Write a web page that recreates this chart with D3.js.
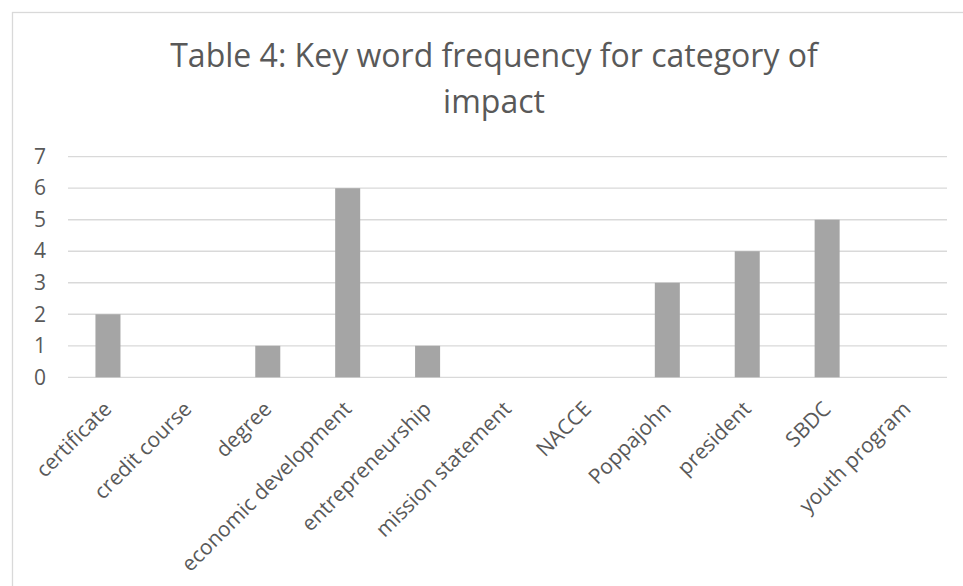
<!DOCTYPE html>
<html>
<head>
<meta charset="utf-8">
<script src="https://cdn.jsdelivr.net/npm/d3@7"></script>
<style>
  html, body { margin: 0; padding: 0; background: #fff; }
  svg { display: block; }
  text { font-family: "Open Sans", sans-serif; }
</style>
</head>
<body>
<svg id="chart" width="963" height="586"></svg>
<script>
const titleLines = ["Table 4: Key word frequency for category of", "impact"];
const categories = ["certificate", "credit course", "degree", "economic development", "entrepreneurship",
  "mission statement", "NACCE", "Poppajohn", "president", "SBDC", "youth program"];
const values = [2, 0, 1, 6, 1, 0, 0, 3, 4, 5, 0];
const yTicks = [0, 1, 2, 3, 4, 5, 6, 7];

const svg = d3.select("#chart");
const W = 963, H = 586;
const plot = { left: 68, right: 947, top: 156.7, bottom: 377.3 };

svg.append("rect").attr("x", 0).attr("y", 0).attr("width", W).attr("height", H).attr("fill", "#fff");
svg.append("rect")
  .attr("x", 12.5).attr("y", 12.5).attr("width", 1100).attr("height", 700)
  .attr("fill", "none").attr("stroke", "#d9d9d9").attr("stroke-width", 1.3);

const title = svg.append("text")
  .attr("text-anchor", "middle")
  .attr("fill", "#595959")
  .style("font-size", "32px");
titleLines.forEach((t, i) => {
  title.append("tspan").attr("x", 494).attr("y", 67 + i * 46).text(t);
});

const x = d3.scaleBand()
  .domain(categories)
  .range([plot.left, plot.right])
  .paddingInner(0.687)
  .paddingOuter(0.3435);

const y = d3.scaleLinear().domain([0, 7]).range([plot.bottom, plot.top]);

svg.append("g")
  .selectAll("line")
  .data(yTicks)
  .join("line")
  .attr("x1", plot.left).attr("x2", plot.right)
  .attr("y1", d => y(d)).attr("y2", d => y(d))
  .attr("stroke", "#d9d9d9").attr("stroke-width", 1.3);

const yAxis = d3.axisLeft(y).tickValues(yTicks).tickSize(0).tickPadding(0).tickFormat(d3.format("d"));
const gy = svg.append("g").attr("transform", `translate(46,0)`).call(yAxis);
gy.attr("font-size", null).attr("font-family", null);
gy.select(".domain").remove();
gy.selectAll("text").attr("fill", "#595959").style("font-size", "21px");

svg.append("g")
  .selectAll("rect")
  .data(values)
  .join("rect")
  .attr("x", (d, i) => x(categories[i]))
  .attr("width", x.bandwidth())
  .attr("y", d => y(d))
  .attr("height", d => y(0) - y(d))
  .attr("fill", "#a5a5a5");

const xAxis = d3.axisBottom(x).tickSize(0).tickPadding(0);
const gx = svg.append("g").attr("transform", `translate(0,${plot.bottom})`).call(xAxis);
gx.attr("font-size", null).attr("font-family", null);
gx.select(".domain").remove();
gx.selectAll("text")
  .attr("fill", "#595959")
  .style("font-size", "21px")
  .attr("text-anchor", "end")
  .attr("dy", null).attr("y", null)
  .attr("transform", "translate(5,33) rotate(-45)");
</script>
</body>
</html>
